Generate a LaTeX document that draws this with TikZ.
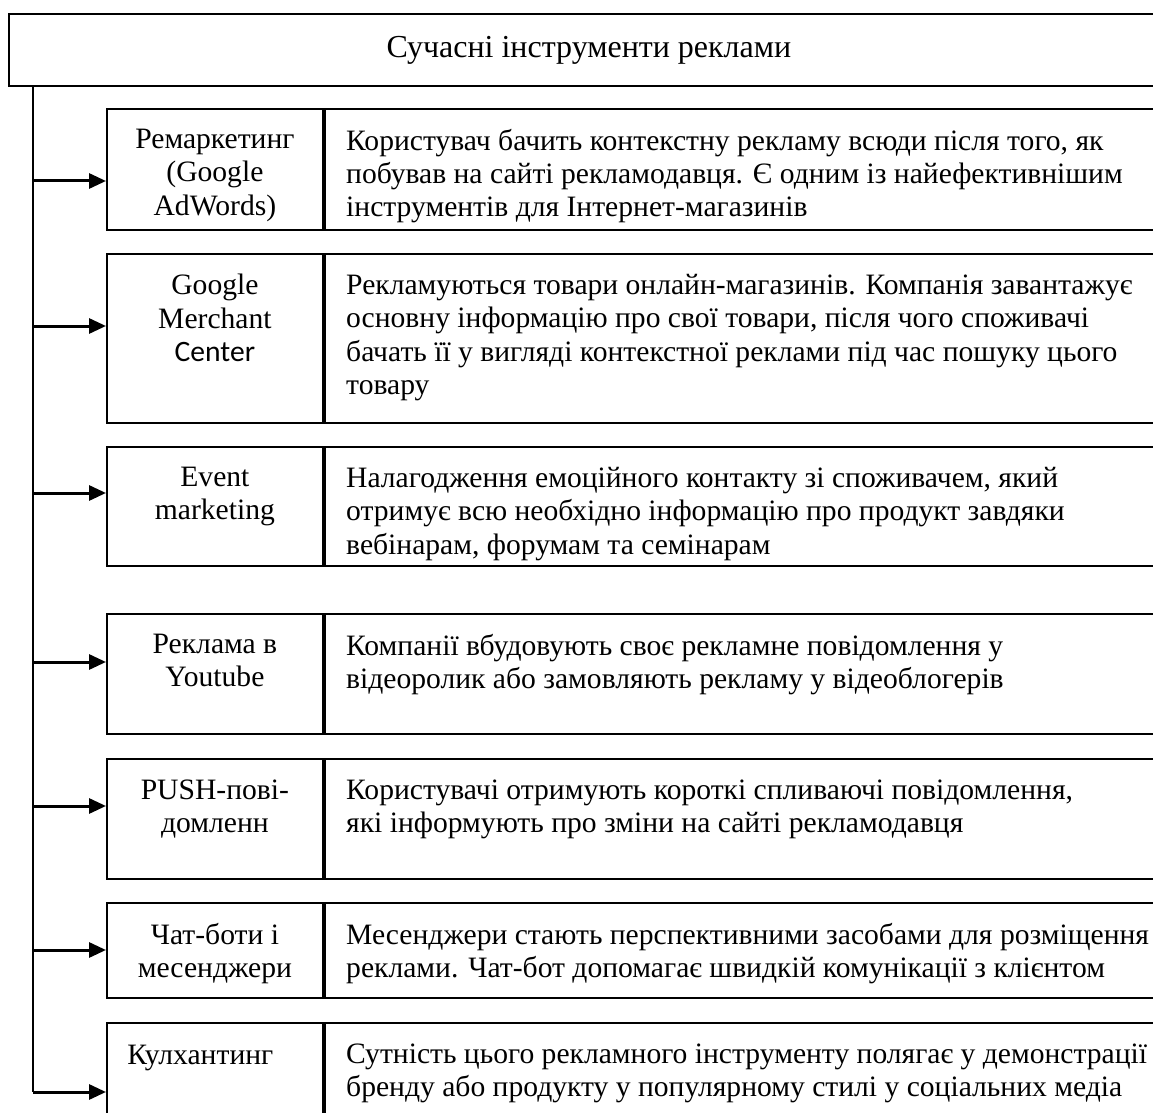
\documentclass[tikz,border=0pt]{standalone}
\usepackage{fontspec}
\setmainfont{Liberation Serif}
\newfontfamily\calibri{Carlito}
\usetikzlibrary{arrows.meta,positioning}
\tikzset{
  cell/.style={
    % The shape:
    shape=rectangle,anchor=north west,inner sep=0pt,
    % The border:
    draw=black,line width=0.9pt},
  tool/.style={cell,minimum width=108pt},
  desc/.style={cell,minimum width=424pt}}
\tikzset{
  tname/.style={
    % a strut keeps every first line at the same height
    anchor=north,align=center,inner sep=0pt,
    font=\fontsize{14.8}{16.6}\selectfont,
    execute at begin node=\strut},
  dtext/.style={
    anchor=north west,align=left,inner sep=0pt,
    font=\fontsize{14.8}{16.6}\selectfont,
    execute at begin node=\strut},
  trunk/.style={line width=1pt},
  branch/.style={line width=1.5pt,-{Triangle[length=8.5pt,width=7.5pt]}}}

\begin{document}
\begin{tikzpicture}[x=0.5pt,y=-0.5pt]
	\useasboundingbox (0,0) rectangle (1153,1113);
	\clip (0,0) rectangle (1153,1113);
	% Heading
	\node[cell,minimum width=580pt,minimum height=36pt,
		font=\fontsize{16}{18}\selectfont] (head) at (8,13) {Сучасні інструменти реклами};
	% Row 1
	\node[tool,minimum height=60.5pt] (tool1) at (106,108) {};
	\node[desc,minimum height=60.5pt] (desc1) at (tool1.north east) {};
	\node[tname] (name1) at ([yshift=-10.5pt]tool1.north) {Ремаркетинг\\(Google\\AdWords)};
	\node[dtext] (text1) at ([xshift=11pt,yshift=-10.5pt]desc1.north west) {Користувач бачить контекстну рекламу всюди після того, як\\побував на сайті рекламодавця. Є одним із найефективнішим\\інструментів для Інтернет-магазинів};
	% Row 2
	\node[tool,minimum height=84.5pt] (tool2) at (106,253) {};
	\node[desc,minimum height=84.5pt] (desc2) at (tool2.north east) {};
	\node[tname] (name2) at ([yshift=-10.5pt]tool2.north) {Google\\Merchant\\{\calibri Center}};
	\node[dtext] (text2) at ([xshift=11pt,yshift=-10.5pt]desc2.north west) {Рекламуються товари онлайн-магазинів. Компанія завантажує\\основну інформацію про свої товари, після чого споживачі\\бачать її у вигляді контекстної реклами під час пошуку цього\\товару};
	% Row 3
	\node[tool,minimum height=59.5pt] (tool3) at (106,446) {};
	\node[desc,minimum height=59.5pt] (desc3) at (tool3.north east) {};
	\node[tname] (name3) at ([yshift=-10.5pt]tool3.north) {Event\\marketing};
	\node[dtext] (text3) at ([xshift=11pt,yshift=-10.5pt]desc3.north west) {Налагодження емоційного контакту зі споживачем, який\\отримує всю необхідно інформацію про продукт завдяки\\вебінарам, форумам та семінарам};
	% Row 4
	\node[tool,minimum height=60pt] (tool4) at (106,613) {};
	\node[desc,minimum height=60pt] (desc4) at (tool4.north east) {};
	\node[tname] (name4) at ([yshift=-10.5pt]tool4.north) {Реклама в\\Youtube};
	\node[dtext] (text4) at ([xshift=11pt,yshift=-10.5pt]desc4.north west) {Компанії вбудовують своє рекламне повідомлення у\\відеоролик або замовляють рекламу у відеоблогерів};
	% Row 5
	\node[tool,minimum height=60pt] (tool5) at (106,758) {};
	\node[desc,minimum height=60pt] (desc5) at (tool5.north east) {};
	\node[tname] (name5) at ([yshift=-10.5pt]tool5.north) {PUSH-пові-\\домленн};
	\node[dtext] (text5) at ([xshift=11pt,yshift=-10.5pt]desc5.north west) {Користувачі отримують короткі спливаючі повідомлення,\\які інформують про зміни на сайті рекламодавця};
	% Row 6
	\node[tool,minimum height=47.5pt] (tool6) at (106,902) {};
	\node[desc,minimum height=47.5pt] (desc6) at (tool6.north east) {};
	\node[tname] (name6) at ([yshift=-10.5pt]tool6.north) {Чат-боти і\\месенджери};
	\node[dtext] (text6) at ([xshift=11pt,yshift=-10.5pt]desc6.north west) {Месенджери стають перспективними засобами для розміщення\\реклами. Чат-бот допомагає швидкій комунікації з клієнтом};
	% Row 7
	\node[tool,minimum height=60pt] (tool7) at (106,1022) {};
	\node[desc,minimum height=60pt] (desc7) at (tool7.north east) {};
	\node[dtext] (name7) at ([xshift=10.5pt,yshift=-9.3pt]tool7.north west) {Кулхантинг};
	\node[dtext] (text7) at ([xshift=11pt,yshift=-10.5pt]desc7.north west) {Сутність цього рекламного інструменту полягає у демонстрації\\бренду або продукту у популярному стилі у соціальних медіа};
	% Points on the trunk
	\coordinate (t1) at (33,181);
	\coordinate (t2) at (33,326);
	\coordinate (t3) at (33,493);
	\coordinate (t4) at (33,662);
	\coordinate (t5) at (33,806);
	\coordinate (t6) at (33,950);
	\coordinate (t7) at (33,1092);
	% Trunk out of the heading
	\draw[trunk] (t1 |- head.south) -- (t7);
	% Arrows out of the trunk
	\draw[branch] (t1) -- (t1 -| tool1.west);
	\draw[branch] (t2) -- (t2 -| tool2.west);
	\draw[branch] (t3) -- (t3 -| tool3.west);
	\draw[branch] (t4) -- (t4 -| tool4.west);
	\draw[branch] (t5) -- (t5 -| tool5.west);
	\draw[branch] (t6) -- (t6 -| tool6.west);
	\draw[branch] (t7) -- (t7 -| tool7.west);
\end{tikzpicture}
\end{document}
